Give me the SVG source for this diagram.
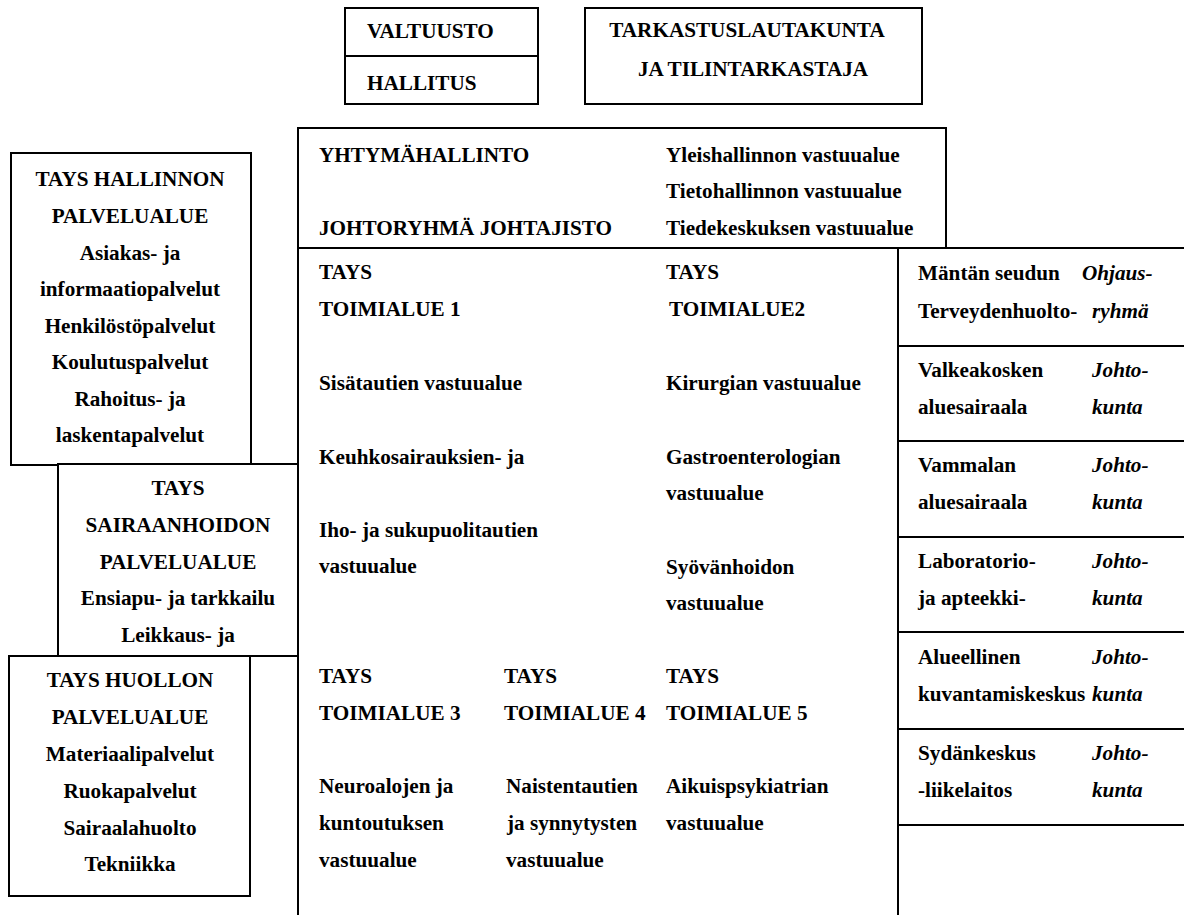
<svg xmlns="http://www.w3.org/2000/svg" width="1184" height="915" viewBox="0 0 1184 915" font-family="'Liberation Serif', 'Times New Roman', serif">
<style>
.b{fill:#fff;stroke:#000;stroke-width:2}
.l{fill:none;stroke:#000;stroke-width:2}
text{font-family:'Liberation Serif','Times New Roman',serif;font-size:21.2px;font-weight:bold;fill:#000}
.c{text-anchor:middle}
.i{font-style:italic}
</style>
<rect width="1184" height="915" fill="#fff"/>
<g id="valtuusto-hallitus">
<rect class="b" x="345" y="8" width="193" height="96"/>
<line class="l" x1="345" y1="56" x2="538" y2="56"/>
<text x="367" y="38">VALTUUSTO</text>
<text x="367" y="90">HALLITUS</text>
</g>
<g id="tarkastus">
<rect class="b" x="585" y="8" width="337" height="96"/>
<text class="c" x="747" y="37">TARKASTUSLAUTAKUNTA</text>
<text class="c" x="753" y="76">JA TILINTARKASTAJA</text>
</g>
<g id="yhtymahallinto">
<path class="l" d="M298 248 V128 H946 V248"/>
<text x="319" y="162">YHTYMÄHALLINTO</text>
<text x="319" y="235">JOHTORYHMÄ JOHTAJISTO</text>
<text x="666" y="162">Yleishallinnon vastuualue</text>
<text x="666" y="198">Tietohallinnon vastuualue</text>
<text x="666" y="235">Tiedekeskuksen vastuualue</text>
</g>
<g id="toimialueet">
<path class="l" d="M298 128 V915 M298 248 H1184 M898 248 V915"/>
<text x="319" y="279">TAYS</text>
<text x="319" y="316">TOIMIALUE 1</text>
<text x="319" y="390">Sisätautien vastuualue</text>
<text x="319" y="464">Keuhkosairauksien- ja</text>
<text x="319" y="537">Iho- ja sukupuolitautien</text>
<text x="319" y="573">vastuualue</text>
<text x="666" y="279">TAYS</text>
<text x="669" y="316">TOIMIALUE2</text>
<text x="666" y="390">Kirurgian vastuualue</text>
<text x="666" y="464">Gastroenterologian</text>
<text x="666" y="500">vastuualue</text>
<text x="666" y="574">Syövänhoidon</text>
<text x="666" y="610">vastuualue</text>
<text x="319" y="683">TAYS</text>
<text x="319" y="720">TOIMIALUE 3</text>
<text x="319" y="793">Neuroalojen ja</text>
<text x="319" y="830">kuntoutuksen</text>
<text x="319" y="867">vastuualue</text>
<text x="504" y="683">TAYS</text>
<text x="504" y="720">TOIMIALUE 4</text>
<text x="506" y="793">Naistentautien</text>
<text x="507" y="830">ja synnytysten</text>
<text x="506" y="867">vastuualue</text>
<text x="666" y="683">TAYS</text>
<text x="666" y="720">TOIMIALUE 5</text>
<text x="666" y="793">Aikuispsykiatrian</text>
<text x="666" y="830">vastuualue</text>
</g>
<g id="liikelaitokset">
<path class="l" d="M898 346 H1184 M898 441 H1184 M898 537 H1184 M898 632 H1184 M898 729 H1184 M898 825 H1184"/>
<text x="918" y="280">Mäntän seudun</text>
<text x="918" y="318">Terveydenhuolto-</text>
<text class="i" x="1082" y="280">Ohjaus-</text>
<text class="i" x="1092" y="318">ryhmä</text>
<text x="918" y="377">Valkeakosken</text>
<text x="918" y="414">aluesairaala</text>
<text class="i" x="1092" y="377">Johto-</text>
<text class="i" x="1092" y="414">kunta</text>
<text x="918" y="472">Vammalan</text>
<text x="918" y="509">aluesairaala</text>
<text class="i" x="1092" y="472">Johto-</text>
<text class="i" x="1092" y="509">kunta</text>
<text x="918" y="568">Laboratorio-</text>
<text x="918" y="605">ja apteekki-</text>
<text class="i" x="1092" y="568">Johto-</text>
<text class="i" x="1092" y="605">kunta</text>
<text x="918" y="664">Alueellinen</text>
<text x="918" y="701">kuvantamiskeskus</text>
<text class="i" x="1092" y="664">Johto-</text>
<text class="i" x="1092" y="701">kunta</text>
<text x="918" y="760">Sydänkeskus</text>
<text x="918" y="797">-liikelaitos</text>
<text class="i" x="1092" y="760">Johto-</text>
<text class="i" x="1092" y="797">kunta</text>
</g>
<g id="hallinnon-palvelualue">
<rect class="b" x="11" y="153" width="240" height="312"/>
<text class="c" x="130" y="186">TAYS HALLINNON</text>
<text class="c" x="130" y="223">PALVELUALUE</text>
<text class="c" x="130" y="260">Asiakas- ja</text>
<text class="c" x="130" y="296">informaatiopalvelut</text>
<text class="c" x="130" y="333">Henkilöstöpalvelut</text>
<text class="c" x="130" y="369">Koulutuspalvelut</text>
<text class="c" x="130" y="406">Rahoitus- ja</text>
<text class="c" x="130" y="442">laskentapalvelut</text>
</g>
<g id="sairaanhoidon-palvelualue">
<rect class="b" x="58" y="464" width="240" height="192"/>
<text class="c" x="178" y="495">TAYS</text>
<text class="c" x="178" y="532">SAIRAANHOIDON</text>
<text class="c" x="178" y="569">PALVELUALUE</text>
<text class="c" x="178" y="605">Ensiapu- ja tarkkailu</text>
<text class="c" x="178" y="642">Leikkaus- ja</text>
</g>
<g id="huollon-palvelualue">
<rect class="b" x="9" y="656" width="241" height="240"/>
<text class="c" x="130" y="687">TAYS HUOLLON</text>
<text class="c" x="130" y="724">PALVELUALUE</text>
<text class="c" x="130" y="761">Materiaalipalvelut</text>
<text class="c" x="130" y="798">Ruokapalvelut</text>
<text class="c" x="130" y="835">Sairaalahuolto</text>
<text class="c" x="130" y="871">Tekniikka</text>
</g>
</svg>
